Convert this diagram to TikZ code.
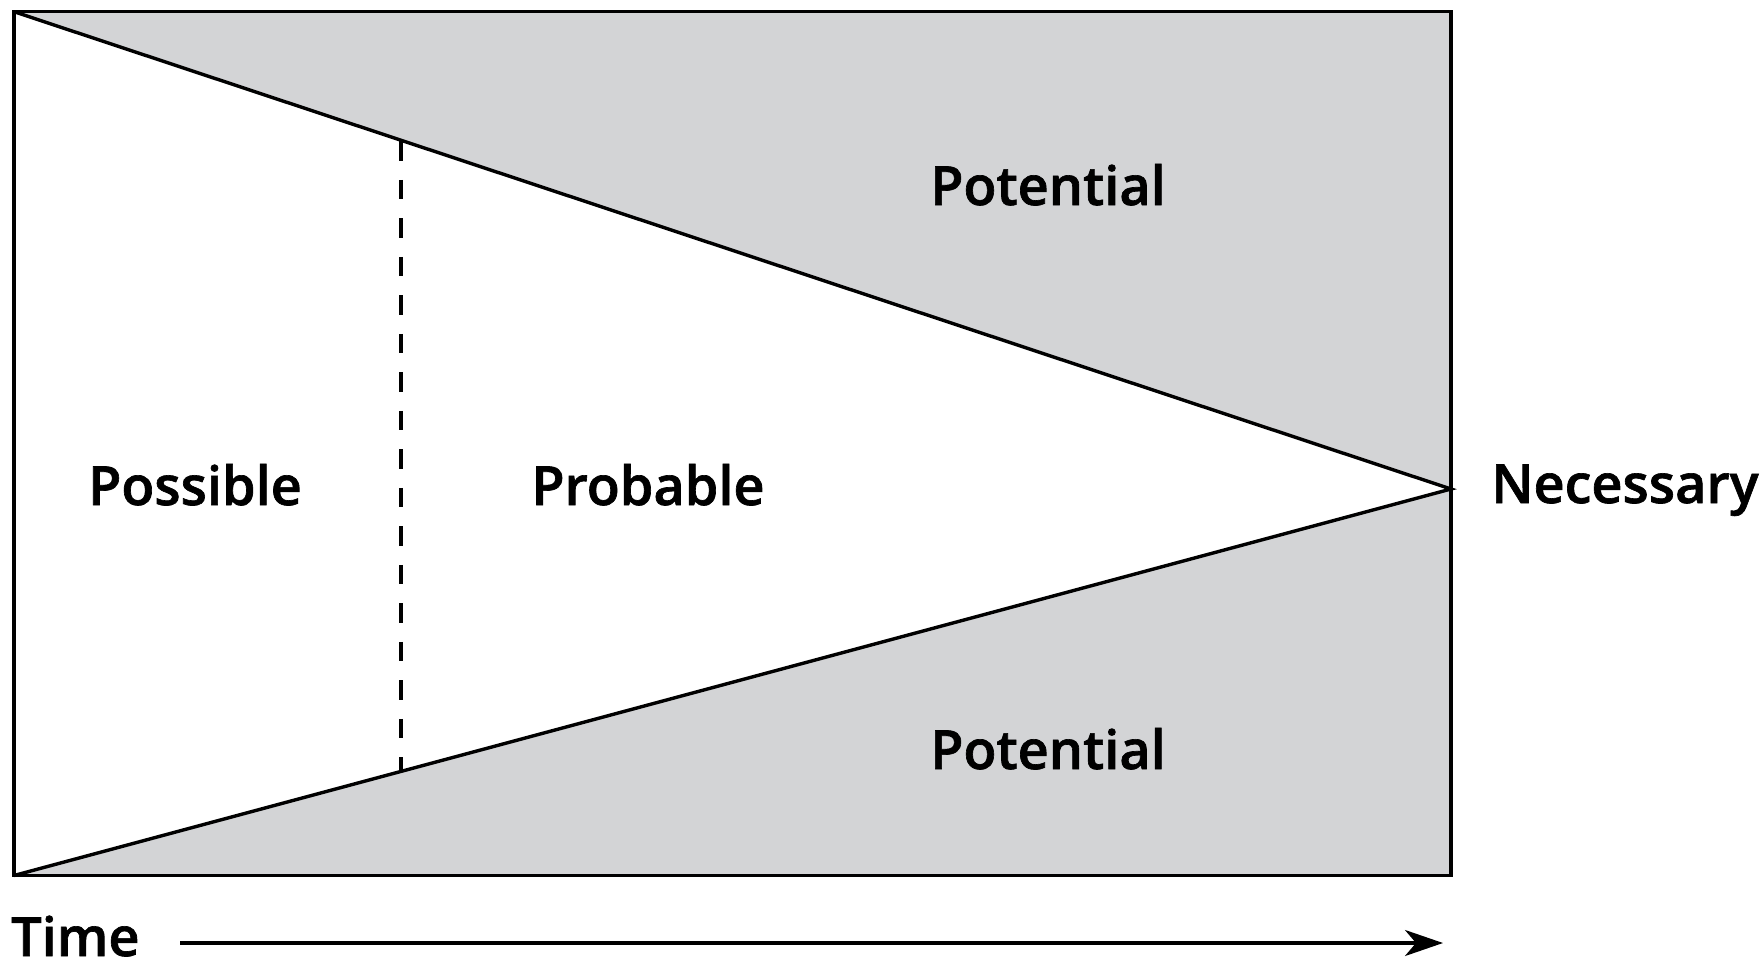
\documentclass[tikz,border=0pt]{standalone}
\usepackage{fontspec}
\setmainfont{Open Sans}[UprightFont=* Semibold, FakeBold=1.2]
\usetikzlibrary{arrows.meta}
\definecolor{potgray}{RGB}{211,212,214}
\tikzset{
  lab/.style={font=\fontsize{54}{60}\selectfont, inner sep=0pt, anchor=base},
  edge/.style={line width=3.4pt, line join=miter},
  dashline/.style={line width=3.2pt, dash pattern=on 19.3pt off 19.2pt}
}
\begin{document}
\begin{tikzpicture}[x=1pt,y=-1pt]
\useasboundingbox (0,0) rectangle (1761,963);
\coordinate (tl) at (14,11.7);
\coordinate (br) at (1451,875.5);
\coordinate (bl) at (14,875.5);
\coordinate (apex) at (1451,489);
\coordinate (dtop) at (401,141.3);
\coordinate (dbot) at (401,770);
\coordinate (astart) at (180,943);
\coordinate (aend) at (1443,943);
\fill[potgray] (tl) rectangle (br);
\fill[white] (tl) -- (apex) -- (bl) -- cycle;
\draw[edge] (tl) -- (apex) -- (bl);
\draw[edge] (tl) rectangle (br);
\draw[dashline] (dtop) -- (dbot);
\draw[line width=3.2pt, -{Stealth[length=38pt,width=26pt,inset=11pt]}] (astart) -- (aend);
\node[lab] (pottop) at (1048,205) {Potential};
\node[lab] (potbot) at (1048,769) {Potential};
\node[lab] (possible) at (195,505) {Possible};
\node[lab] (probable) at (648,505) {Probable};
\node[lab] (necessary) at (1625,503) {Necessary};
\node[lab, anchor=base west] (time) at (11,956) {Time};
\end{tikzpicture}
\end{document}
